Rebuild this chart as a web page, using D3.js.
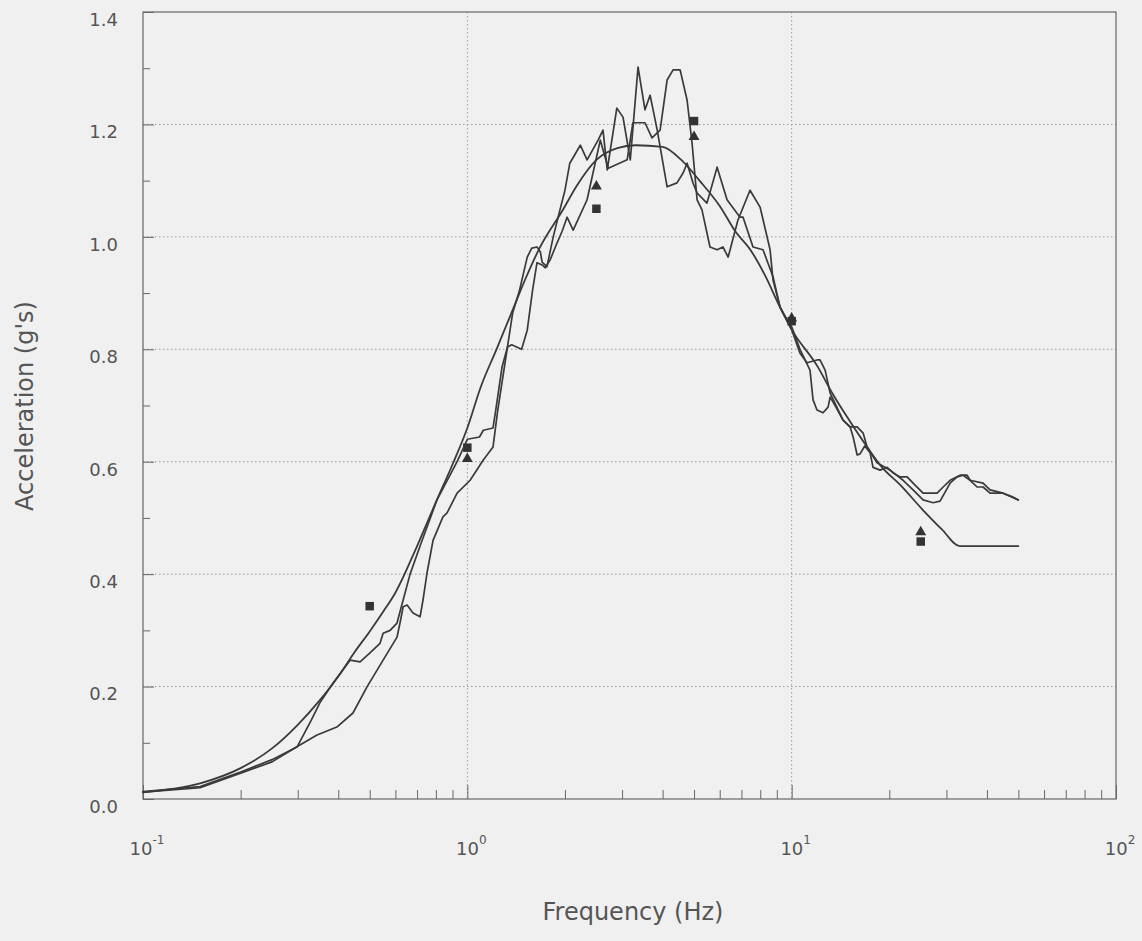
<!DOCTYPE html>
<html>
<head>
<meta charset="utf-8">
<script src="https://cdn.jsdelivr.net/npm/d3@7"></script>
<style>
  html, body { margin: 0; padding: 0; background: #f0f0f0; }
  svg { display: block; }
  text { font-family: "DejaVu Sans", "Liberation Sans", sans-serif; fill: #555; }
</style>
</head>
<body>
<svg id="chart" width="1142" height="941"></svg>
<script>
// Target design response spectrum: [frequency (Hz), acceleration (g)]
const targetSpectrum = [
  [0.1, 0.012], [0.15, 0.028], [0.2, 0.055], [0.25, 0.09], [0.3, 0.132], [0.35, 0.175],
  [0.4, 0.218], [0.45, 0.262], [0.5, 0.298], [0.55, 0.333], [0.6, 0.367], [0.7, 0.45],
  [0.8, 0.528], [0.9, 0.595], [1.0, 0.66], [1.1, 0.733], [1.23, 0.80], [1.38, 0.87],
  [1.51, 0.925], [1.67, 0.98], [1.98, 1.05], [2.17, 1.09], [2.5, 1.137], [2.9, 1.158],
  [3.3, 1.163], [4.0, 1.16], [4.6, 1.135], [5.2, 1.10], [6.0, 1.055], [6.7, 1.01],
  [7.5, 0.975], [8.3, 0.93], [9.2, 0.875], [10, 0.835], [12, 0.77], [13.4, 0.72],
  [15, 0.675], [17.1, 0.626], [19, 0.59], [21.5, 0.56], [25.4, 0.514], [29, 0.48],
  [33, 0.45], [50, 0.45]
];

// Computed response spectrum, record A
const spectrumA = [
  [0.1, 0.012], [0.15, 0.02], [0.2, 0.046], [0.25, 0.066], [0.3, 0.094], [0.344, 0.114],
  [0.396, 0.128], [0.444, 0.153], [0.491, 0.2], [0.55, 0.247], [0.607, 0.288], [0.62, 0.313],
  [0.634, 0.342], [0.652, 0.345], [0.68, 0.331], [0.715, 0.324], [0.73, 0.354], [0.751, 0.402],
  [0.784, 0.46], [0.841, 0.502], [0.866, 0.509], [0.93, 0.544], [1.02, 0.567], [1.12, 0.603],
  [1.2, 0.626], [1.24, 0.69], [1.38, 0.865], [1.45, 0.906], [1.53, 0.964], [1.58, 0.98],
  [1.64, 0.982], [1.68, 0.973], [1.7, 0.955], [1.76, 0.947], [1.84, 1.0], [1.93, 1.048],
  [2.0, 1.083], [2.07, 1.131], [2.23, 1.163], [2.34, 1.137], [2.53, 1.172], [2.62, 1.19],
  [2.7, 1.119], [2.89, 1.229], [3.02, 1.213], [3.18, 1.137], [3.36, 1.302], [3.53, 1.226],
  [3.66, 1.252], [3.85, 1.19], [4.13, 1.089], [4.43, 1.096], [4.63, 1.114], [4.76, 1.131],
  [4.97, 1.095], [5.11, 1.078], [5.48, 1.06], [5.89, 1.124], [6.32, 1.066], [6.93, 1.035],
  [7.08, 1.035], [7.6, 0.982], [8.16, 0.977], [8.76, 0.929], [9.21, 0.875], [9.68, 0.852],
  [10.0, 0.835], [10.61, 0.793], [11.15, 0.776], [11.97, 0.781], [12.23, 0.781], [12.68, 0.763],
  [13.14, 0.722], [14.4, 0.674], [15.14, 0.662], [15.47, 0.644], [15.92, 0.612], [16.25, 0.614],
  [16.8, 0.628], [17.45, 0.616], [17.82, 0.59], [18.74, 0.585], [19.69, 0.59], [20.55, 0.58],
  [21.6, 0.573], [22.7, 0.573], [23.68, 0.562], [25.42, 0.544], [26.72, 0.544], [28.08, 0.544],
  [29.31, 0.555], [30.8, 0.567], [33.06, 0.576], [34.75, 0.576], [35.49, 0.567], [38.92, 0.562],
  [40.91, 0.55], [44.87, 0.544], [48.17, 0.537], [50, 0.532]
];

// Computed response spectrum, record B
const spectrumB = [
  [0.1, 0.013], [0.15, 0.022], [0.2, 0.048], [0.25, 0.07], [0.299, 0.093], [0.33, 0.14],
  [0.351, 0.171], [0.385, 0.206], [0.435, 0.247], [0.467, 0.244], [0.501, 0.26], [0.538, 0.277],
  [0.55, 0.295], [0.578, 0.30], [0.607, 0.313], [0.634, 0.354], [0.666, 0.40], [0.72, 0.455],
  [0.806, 0.532], [0.93, 0.60], [1.0, 0.64], [1.09, 0.644], [1.12, 0.656], [1.2, 0.66],
  [1.22, 0.687], [1.28, 0.769], [1.33, 0.804], [1.37, 0.808], [1.47, 0.80], [1.53, 0.834],
  [1.59, 0.906], [1.64, 0.954], [1.7, 0.95], [1.74, 0.945], [1.8, 0.959], [1.89, 0.989],
  [1.96, 1.01], [2.03, 1.035], [2.12, 1.012], [2.34, 1.066], [2.57, 1.172], [2.72, 1.122],
  [3.11, 1.137], [3.24, 1.203], [3.53, 1.203], [3.71, 1.176], [3.93, 1.19], [4.13, 1.279],
  [4.31, 1.297], [4.53, 1.297], [4.76, 1.243], [4.93, 1.167], [5.11, 1.066], [5.29, 1.048],
  [5.6, 0.982], [5.89, 0.977], [6.14, 0.982], [6.37, 0.964], [6.83, 1.03], [7.44, 1.083],
  [7.99, 1.053], [8.58, 0.977], [8.76, 0.923], [9.21, 0.875], [9.68, 0.852], [10.0, 0.84],
  [10.61, 0.80], [11.39, 0.763], [11.64, 0.71], [11.97, 0.692], [12.5, 0.687], [12.95, 0.697],
  [13.14, 0.715], [13.61, 0.70], [14.4, 0.674], [15.14, 0.662], [15.92, 0.662], [16.61, 0.651],
  [17.08, 0.626], [18.34, 0.598], [20.12, 0.585], [22.06, 0.567], [23.68, 0.55], [25.42, 0.532],
  [27.29, 0.527], [28.68, 0.53], [30.8, 0.562], [32.36, 0.573], [33.77, 0.576], [35.49, 0.567],
  [37.3, 0.555], [38.92, 0.555], [40.91, 0.544], [44.87, 0.544], [50, 0.532]
];

// Discrete test points
const squarePoints   = [[0.5, 0.343], [1, 0.625], [2.5, 1.05], [5, 1.206], [10, 0.85], [25, 0.458]];
const trianglePoints = [[1, 0.605], [2.5, 1.09], [5, 1.178], [10, 0.855], [25, 0.475]];

// Axis ticks
const yMajorTicks = [0, 0.2, 0.4, 0.6, 0.8, 1.0, 1.2, 1.4];
const yMinorTicks = [0.1, 0.3, 0.5, 0.7, 0.9, 1.1, 1.3];
const xDecadeExponents = [-1, 0, 1, 2];
const xMinorMultipliers = [2, 3, 4, 5, 6, 7, 8, 9];

const svg = d3.select("#chart");
const plot = { left: 143, right: 1116, top: 12, bottom: 799 };

const x = d3.scaleLog().domain([0.1, 100]).range([plot.left, plot.right]);
const y = d3.scaleLinear().domain([0, 1.4]).range([plot.bottom, plot.top]);

const ink = "#3a3a3a";
const gridColor = "#9a9a9a";

// Dotted grid
const grid = svg.append("g");
grid.selectAll("line.hgrid")
  .data(yMajorTicks.filter(v => v > 0 && v < 1.4))
  .join("line")
  .attr("x1", plot.left).attr("x2", plot.right)
  .attr("y1", d => y(d)).attr("y2", d => y(d))
  .attr("stroke", gridColor).attr("stroke-width", 1)
  .attr("stroke-dasharray", "1.5,2.5");
grid.selectAll("line.vgrid")
  .data(xDecadeExponents.map(e => Math.pow(10, e)).filter(v => v > 0.1 && v < 100))
  .join("line")
  .attr("x1", d => x(d)).attr("x2", d => x(d))
  .attr("y1", plot.top).attr("y2", plot.bottom)
  .attr("stroke", gridColor).attr("stroke-width", 1)
  .attr("stroke-dasharray", "1.5,2.5");

// Frame
svg.append("rect")
  .attr("x", plot.left).attr("y", plot.top)
  .attr("width", plot.right - plot.left).attr("height", plot.bottom - plot.top)
  .attr("fill", "none").attr("stroke", "#666").attr("stroke-width", 1.2);

// Left axis: minor and major ticks pointing inward, labels outside
const yMinorAxis = d3.axisLeft(y).tickValues(yMinorTicks).tickSize(-7).tickFormat("");
const yMajorAxis = d3.axisLeft(y).tickValues(yMajorTicks).tickSize(-11).tickPadding(25)
  .tickFormat(d3.format(".1f"));
svg.append("g").attr("transform", `translate(${plot.left},0)`).call(yMinorAxis)
  .call(g => g.select(".domain").remove())
  .call(g => g.selectAll("line").attr("stroke", "#666"));
svg.append("g").attr("transform", `translate(${plot.left},0)`).call(yMajorAxis)
  .call(g => g.select(".domain").remove())
  .call(g => g.selectAll("line").attr("stroke", "#666"))
  .call(g => g.selectAll("text")
    .attr("dy", "0.74em")
    .style("font-size", "18px")
    .style("font-family", "'DejaVu Sans', sans-serif")
    .attr("fill", "#555"));

// Bottom axis: minor log ticks pointing inward
const xMinorValues = [];
xDecadeExponents.slice(0, -1).forEach(e => {
  xMinorMultipliers.forEach(m => xMinorValues.push(m * Math.pow(10, e)));
});
const xMinorAxis = d3.axisBottom(x).tickValues(xMinorValues).tickSize(-9).tickFormat("");
const xMajorAxis = d3.axisBottom(x)
  .tickValues(xDecadeExponents.map(e => Math.pow(10, e))).tickSize(-14).tickFormat("");
svg.append("g").attr("transform", `translate(0,${plot.bottom})`).call(xMinorAxis)
  .call(g => g.select(".domain").remove())
  .call(g => g.selectAll("line").attr("stroke", "#666"));
svg.append("g").attr("transform", `translate(0,${plot.bottom})`).call(xMajorAxis)
  .call(g => g.select(".domain").remove())
  .call(g => g.selectAll("line").attr("stroke", "#666"));

// Decade labels with superscript exponents
const xLabels = svg.append("g");
xDecadeExponents.forEach(e => {
  const t = xLabels.append("text")
    .attr("x", x(Math.pow(10, e)) + 4)
    .attr("y", 855)
    .attr("text-anchor", "middle")
    .style("font-size", "18px");
  t.append("tspan").text("10");
  t.append("tspan").attr("dy", -11).style("font-size", "12px").text(String(e));
});

// Axis titles
svg.append("text")
  .attr("x", 633).attr("y", 920)
  .attr("text-anchor", "middle")
  .style("font-size", "24px")
  .text("Frequency (Hz)");
svg.append("text")
  .attr("transform", "translate(33,406) rotate(-90)")
  .attr("text-anchor", "middle")
  .style("font-size", "24px")
  .text("Acceleration (g's)");

// Spectrum curves
const lineLinear = d3.line().x(d => x(d[0])).y(d => y(d[1]));
const lineSmooth = d3.line().x(d => x(d[0])).y(d => y(d[1])).curve(d3.curveMonotoneX);

const curves = svg.append("g").attr("fill", "none").attr("stroke", ink)
  .attr("stroke-linejoin", "round").attr("stroke-linecap", "round");
curves.append("path").attr("d", lineLinear(spectrumA)).attr("stroke-width", 1.7);
curves.append("path").attr("d", lineLinear(spectrumB)).attr("stroke-width", 1.7);
curves.append("path").attr("d", lineSmooth(targetSpectrum)).attr("stroke-width", 1.8);

// Test point markers
const squareSym = d3.symbol().type(d3.symbolSquare).size(72);
const triangleSym = d3.symbol().type(d3.symbolTriangle).size(52);
svg.append("g").selectAll("path")
  .data(trianglePoints)
  .join("path")
  .attr("d", triangleSym)
  .attr("transform", d => `translate(${x(d[0])},${y(d[1])})`)
  .attr("fill", "#333");
svg.append("g").selectAll("path")
  .data(squarePoints)
  .join("path")
  .attr("d", squareSym)
  .attr("transform", d => `translate(${x(d[0])},${y(d[1])})`)
  .attr("fill", "#333");
</script>
</body>
</html>
